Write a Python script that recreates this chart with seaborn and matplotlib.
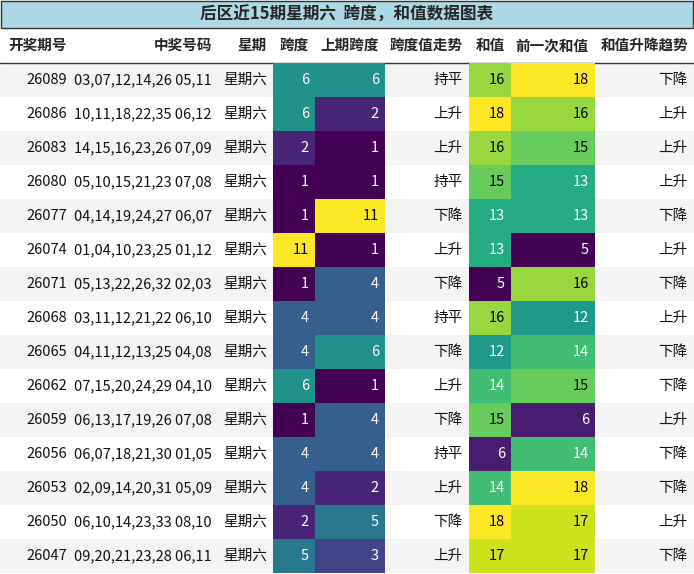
import numpy as np
import pandas as pd
import matplotlib
matplotlib.use("Agg")
import matplotlib.pyplot as plt
from matplotlib.patches import Rectangle
import seaborn as sns

issues = ["26089","26086","26083","26080","26077","26074","26071","26068","26065","26062","26059","26056","26053","26050","26047"]
numbers = ["03,07,12,14,26 05,11","10,11,18,22,35 06,12","14,15,16,23,26 07,09","05,10,15,21,23 07,08",
           "04,14,19,24,27 06,07","01,04,10,23,25 01,12","05,13,22,26,32 02,03","03,11,12,21,22 06,10",
           "04,11,12,13,25 04,08","07,15,20,24,29 04,10","06,13,17,19,26 07,08","06,07,18,21,30 01,05",
           "02,09,14,20,31 05,09","06,10,14,23,33 08,10","09,20,21,23,28 06,11"]
weekday = ["星期六"] * 15
span = [6,6,2,1,1,11,1,4,4,6,1,4,4,2,5]
prev_span = [6,2,1,1,11,1,4,4,6,1,4,4,2,5,3]
span_trend = ["持平","上升","上升","持平","下降","上升","下降","持平","下降","上升","下降","持平","上升","下降","上升"]
sums = [16,18,16,15,13,13,5,16,12,14,15,6,14,18,17]
prev_sums = [18,16,15,13,13,5,16,12,14,15,6,14,18,17,17]
sum_trend = ["下降","上升","上升","上升","下降","上升","下降","上升","下降","下降","上升","下降","下降","上升","下降"]
headers = ["开奖期号","中奖号码","星期","跨度","上期跨度","跨度值走势","和值","前一次和值","和值升降趋势"]
title = "后区近15期星期六  跨度，和值数据图表"

sns.set_theme(style="white")
plt.rcParams['font.family'] = ['Noto Sans CJK SC', 'DejaVu Sans']

W, H = 694, 574
fig = plt.figure(figsize=(W/100, H/100), dpi=100)
ax = fig.add_axes([0, 0, 1, 1])
ax.set_xlim(0, W); ax.set_ylim(H, 0); ax.axis("off")

edges = [0, 73, 218, 273, 315, 385, 469, 511, 595, 694]
top, hdr_bot, rh = 27, 63, 34
fs = 10.5

ax.add_patch(Rectangle((0.5, 0.5), W-1, top, facecolor="#add8e6", edgecolor="#333333", lw=1))
ax.text(W/2, top/2+1, title, ha="center", va="center", fontsize=12, fontweight="bold")
for i, h in enumerate(headers):
    ax.text(edges[i+1]-6, (top+hdr_bot)/2, h, ha="right", va="center", fontsize=fs, fontweight="bold")
ax.plot([0, W], [hdr_bot, hdr_bot], color="#333333", lw=1)

cols_text = [issues, numbers, weekday, None, None, span_trend, None, None, sum_trend]
for r in range(15):
    y0 = hdr_bot + r*rh
    if r % 2 == 0:
        ax.add_patch(Rectangle((0, y0), W, rh, facecolor="#f4f4f4", edgecolor="none"))
    for c, vals in enumerate(cols_text):
        if vals is not None:
            ax.text(edges[c+1]-6, y0+rh/2, vals[r], ha="right", va="center", fontsize=fs, color="#111111")

cmap = sns.color_palette("viridis", as_cmap=True)
heat = [(3, span, 1, 11), (4, prev_span, 1, 11), (6, sums, 5, 18), (7, prev_sums, 5, 18)]
for c, vals, vmin, vmax in heat:
    x0, x1 = edges[c], edges[c+1]
    hax = fig.add_axes([x0/W, 1-(hdr_bot+15*rh)/H, (x1-x0)/W, 15*rh/H])
    df = pd.DataFrame({"v": vals})
    sns.heatmap(df, ax=hax, cmap=cmap, vmin=vmin, vmax=vmax, cbar=False, annot=False,
                xticklabels=False, yticklabels=False)
    hax.axis("off")
    for r, v in enumerate(vals):
        norm = (v - vmin) / (vmax - vmin)
        hax.text(1 - 6/(x1-x0), r+0.5, str(v), ha="right", va="center", fontsize=fs,
                 color="black" if norm > 0.72 else "white")

fig.savefig("out.png", dpi=100)
